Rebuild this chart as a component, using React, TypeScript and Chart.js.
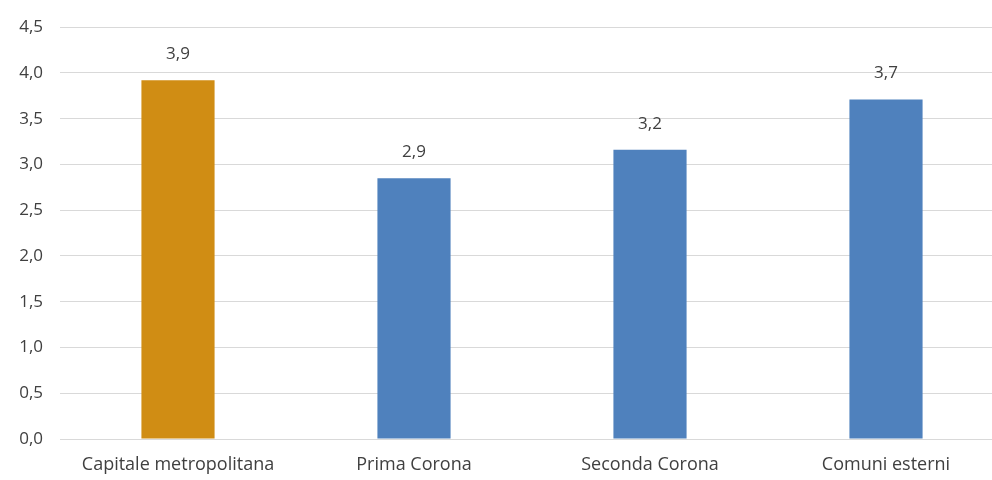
import React, { useEffect, useRef } from "react";
import { Chart, registerables } from "chart.js";

Chart.register(...registerables);

const categories = ["Capitale metropolitana", "Prima Corona", "Seconda Corona", "Comuni esterni"];
const values = [3.92, 2.85, 3.16, 3.71];
const barColors = ["#D08D14", "#4F81BD", "#4F81BD", "#4F81BD"];
const yTicks = [0, 0.5, 1, 1.5, 2, 2.5, 3, 3.5, 4, 4.5];

const FONT = "'Open Sans', 'Noto Sans', sans-serif";
const TEXT = "#404040";

const fmt = (v: number, d: number) => v.toFixed(d).replace(".", ",");

// Writes each bar's value above its top
const valueLabels = {
  id: "valueLabels",
  afterDatasetsDraw(chart: any) {
    const { ctx } = chart;
    const meta = chart.getDatasetMeta(0);
    ctx.save();
    ctx.font = `17px ${FONT}`;
    ctx.fillStyle = TEXT;
    ctx.textAlign = "center";
    ctx.textBaseline = "alphabetic";
    meta.data.forEach((bar: any, i: number) => {
      ctx.fillText(fmt(values[i], 1), bar.x, bar.y - 21);
    });
    ctx.restore();
  },
};

export default function App() {
  const canvasRef = useRef<HTMLCanvasElement | null>(null);

  useEffect(() => {
    document.body.style.margin = "0";
    document.body.style.overflow = "hidden";
    const chart = new Chart(canvasRef.current!, {
      type: "bar",
      data: {
        labels: categories,
        datasets: [
          {
            data: values,
            backgroundColor: barColors,
            barPercentage: 1,
            categoryPercentage: 0.31,
          },
        ],
      },
      options: {
        animation: false,
        responsive: false,
        maintainAspectRatio: false,
        layout: { padding: { top: 25, left: 0, right: 0, bottom: 0 } },
        plugins: { legend: { display: false }, tooltip: { enabled: false } },
        scales: {
          x: {
            grid: { display: false, drawTicks: false },
            border: { display: true, color: "#D9D9D9", width: 1 },
            ticks: { color: TEXT, font: { family: FONT, size: 18 }, padding: 15, maxRotation: 0 },
            afterFit: (s: any) => {
              s.height = 41;
            },
          },
          y: {
            min: 0,
            max: 4.5,
            afterBuildTicks: (s: any) => {
              s.ticks = yTicks.map((v) => ({ value: v }));
            },
            grid: { color: "#D9D9D9", lineWidth: 1, drawTicks: false },
            border: { display: false },
            ticks: {
              color: TEXT,
              font: { family: FONT, size: 17 },
              padding: 17,
              callback: (v: any) => fmt(Number(v), 1),
            },
            afterFit: (s: any) => {
              s.width = 60;
            },
          },
        },
      },
      plugins: [valueLabels],
    });
    return () => chart.destroy();
  }, []);

  return (
    <div style={{ position: "absolute", left: 0, top: 0, width: 1004, height: 480 }}>
      <canvas ref={canvasRef} width={1004} height={480} style={{ display: "block" }} />
    </div>
  );
}
